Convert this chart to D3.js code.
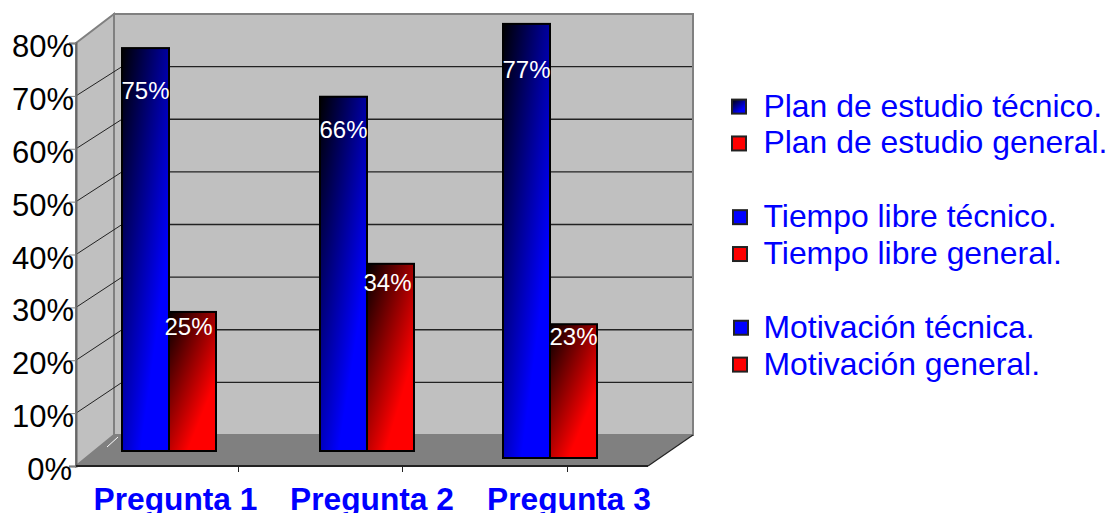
<!DOCTYPE html>
<html>
<head>
<meta charset="utf-8">
<script src="https://cdn.jsdelivr.net/npm/d3@7"></script>
<style>
    html, body { margin: 0; padding: 0; background: #fff; overflow: hidden; }
    svg { display: block; font-family: "Liberation Sans", Arial, sans-serif; }
</style>
</head>
<body>
<div id="chart"></div>
<script>
// Chart data
const categories = ["Pregunta 1", "Pregunta 2", "Pregunta 3"];
const yTicks = [0, 10, 20, 30, 40, 50, 60, 70, 80];
// Bar heights as drawn (the printed labels do not quite agree with them)
const tecnicoHeights = [76.2, 67, 82.1];
const generalHeights = [26.3, 35.4, 25.3];
const tecnicoLabels = ["75%", "66%", "77%"];
const generalLabels = ["25%", "34%", "23%"];
const legendLabels = [
    "Plan de estudio técnico.", "Plan de estudio general.",
    "Tiempo libre técnico.", "Tiempo libre general.",
    "Motivación técnica.", "Motivación general."
];

// Layout
const width = 1110, height = 513;
const front = { left: 76, right: 648, bottom: 466, top: 43 };
const back = { left: 114, right: 693, bottom: 435, top: 14 };
const groupCentres = [169, 367, 550];
const groupLift = [15, 15, 8];          // how far back each group stands on the floor
const labelTicks = [238, 402, 567];
const labelCentres = [175.5, 372, 569];
const tecnicoDrop = [51, 41, 54];
const generalDrop = [23, 27, 21];
const generalNudge = [-4, -3, 0];
const legendSlots = [0, 1, 3, 4, 6, 7];
const swatchLefts = [731, 731, 732, 732, 733, 732];
const barWidth = 47;

const svg = d3.select("#chart").append("svg")
    .attr("width", width)
    .attr("height", height);

// Bar gradients
const defs = svg.append("defs");
function addGradient(id, color) {
    const grad = defs.append("linearGradient")
        .attr("id", id)
        .attr("x1", 0).attr("y1", 0)
        .attr("x2", 0.656).attr("y2", 0.78);
    grad.append("stop").attr("offset", "0%").attr("stop-color", "#000");
    grad.append("stop").attr("offset", "100%").attr("stop-color", color);
}
addGradient("grad-blue", "#0000ff");
addGradient("grad-red", "#ff0000");

// Scales
const yFront = d3.scaleLinear().domain([0, 80]).range([front.bottom, front.top]);
const yBack = d3.scaleLinear().domain([0, 80]).range([back.bottom, back.top]);
const xCentre = d3.scaleOrdinal().domain(categories).range(groupCentres);
const xTick = d3.scaleOrdinal().domain(categories).range(labelTicks);
const xLabel = d3.scaleOrdinal().domain(categories).range(labelCentres);
const lift = d3.scaleOrdinal().domain(categories).range(groupLift);
const legendY = d3.scaleLinear().domain([0, 7]).range([116.6, 374.6]);

// Back wall, side wall, floor
svg.append("polygon")
    .attr("points", [[back.left, back.top], [back.right, back.top], [back.right, back.bottom], [back.left, back.bottom]].join(" "))
    .attr("fill", "#c0c0c0")
    .attr("stroke", "#808080")
    .attr("stroke-width", 2);
svg.append("polygon")
    .attr("points", [[front.left, front.top], [back.left, back.top], [back.left, back.bottom], [front.left, front.bottom]].join(" "))
    .attr("fill", "#c0c0c0")
    .attr("stroke", "#808080")
    .attr("stroke-width", 2);
svg.append("polygon")
    .attr("points", [[front.left, front.bottom], [back.left, back.bottom], [back.right, back.bottom], [front.right, front.bottom]].join(" "))
    .attr("fill", "#808080");
svg.append("line")
    .attr("x1", 107).attr("y1", 447)
    .attr("x2", 118).attr("y2", 437)
    .attr("stroke", "#fff")
    .attr("stroke-width", 1);
svg.append("line")
    .attr("x1", front.right).attr("y1", front.bottom)
    .attr("x2", back.right).attr("y2", back.bottom)
    .attr("stroke", "#222")
    .attr("stroke-width", 1.2);

// Gridlines along the side wall and the back wall
const gridValues = yTicks.filter(d => d > 0 && d < 80);
svg.selectAll(".grid-side")
    .data(gridValues)
    .enter().append("line")
    .attr("class", "grid-side")
    .attr("x1", front.left).attr("y1", d => yFront(d))
    .attr("x2", 122).attr("y2", d => yBack(d))
    .attr("stroke", "#222")
    .attr("stroke-width", 1);
svg.selectAll(".grid-back")
    .data(gridValues)
    .enter().append("line")
    .attr("class", "grid-back")
    .attr("x1", 122).attr("y1", d => yBack(d))
    .attr("x2", back.right - 1).attr("y2", d => yBack(d))
    .attr("stroke", "#222")
    .attr("stroke-width", 1.4);

// Axes
const yAxisG = svg.append("g")
    .attr("transform", `translate(${front.left},0)`)
    .call(d3.axisLeft(yFront).tickValues(yTicks).tickSize(7).tickPadding(-5).tickFormat(d => d + "%"));
yAxisG.select(".domain").attr("stroke", "#666").attr("stroke-width", 2);
yAxisG.selectAll(".tick line").attr("stroke", "#808080");
yAxisG.selectAll(".tick text")
    .attr("font-family", "Liberation Sans")
    .attr("font-size", "31px")
    .attr("fill", "#000")
    .attr("dx", d => d === 0 ? "-2px" : 0)
    .attr("dy", "13.5px");

const xAxisG = svg.append("g")
    .attr("transform", `translate(0,${front.bottom})`)
    .call(d3.axisBottom(xTick).tickSize(6).tickSizeOuter(0).tickFormat(""));
xAxisG.select(".domain").remove();
xAxisG.selectAll(".tick line").attr("stroke", "#222");
svg.append("line")
    .attr("x1", front.left).attr("y1", front.bottom)
    .attr("x2", front.right).attr("y2", front.bottom)
    .attr("stroke", "#222")
    .attr("stroke-width", 2);

svg.selectAll(".category-label")
    .data(categories)
    .enter().append("text")
    .attr("class", "category-label")
    .attr("x", d => xLabel(d))
    .attr("y", 509.5)
    .attr("text-anchor", "middle")
    .attr("font-size", "31.7px")
    .attr("font-weight", "bold")
    .attr("fill", "#0000ff")
    .text(d => d);

// Bars: técnico to the left of the group centre, general to the right
const barData = categories.flatMap((c, i) => [
    { category: c, value: tecnicoHeights[i], label: tecnicoLabels[i], drop: tecnicoDrop[i], nudge: 0, side: -1, fill: "url(#grad-blue)" },
    { category: c, value: generalHeights[i], label: generalLabels[i], drop: generalDrop[i], nudge: generalNudge[i], side: 0, fill: "url(#grad-red)" }
]);
const barX = d => xCentre(d.category) + d.side * barWidth;
const barTop = d => yFront(d.value) - lift(d.category);

svg.selectAll(".bar")
    .data(barData)
    .enter().append("rect")
    .attr("class", "bar")
    .attr("x", barX)
    .attr("y", barTop)
    .attr("width", barWidth)
    .attr("height", d => yFront(0) - yFront(d.value))
    .attr("fill", d => d.fill)
    .attr("stroke", "#000")
    .attr("stroke-width", 2);

svg.selectAll(".bar-label")
    .data(barData)
    .enter().append("text")
    .attr("class", "bar-label")
    .attr("x", d => barX(d) + barWidth / 2 + d.nudge)
    .attr("y", d => barTop(d) + d.drop)
    .attr("text-anchor", "middle")
    .attr("font-size", "24px")
    .attr("fill", "#fff")
    .text(d => d.label);

// Legend
const legendData = legendLabels.map((label, i) => ({
    label,
    y: legendY(legendSlots[i]),
    left: swatchLefts[i],
    fill: i === 0 ? "url(#grad-blue)" : (i % 2 === 0 ? "#0000ff" : "#ff0000")
}));
svg.selectAll(".legend-swatch")
    .data(legendData)
    .enter().append("rect")
    .attr("class", "legend-swatch")
    .attr("x", d => d.left + 1)
    .attr("y", d => d.y - 17)
    .attr("width", 14)
    .attr("height", 14)
    .attr("fill", d => d.fill)
    .attr("stroke", "#222")
    .attr("stroke-width", 2);
svg.selectAll(".legend-label")
    .data(legendData)
    .enter().append("text")
    .attr("class", "legend-label")
    .attr("x", 763.5)
    .attr("y", d => d.y)
    .attr("font-size", "31.9px")
    .attr("fill", "#0000ff")
    .text(d => d.label);
</script>
</body>
</html>
